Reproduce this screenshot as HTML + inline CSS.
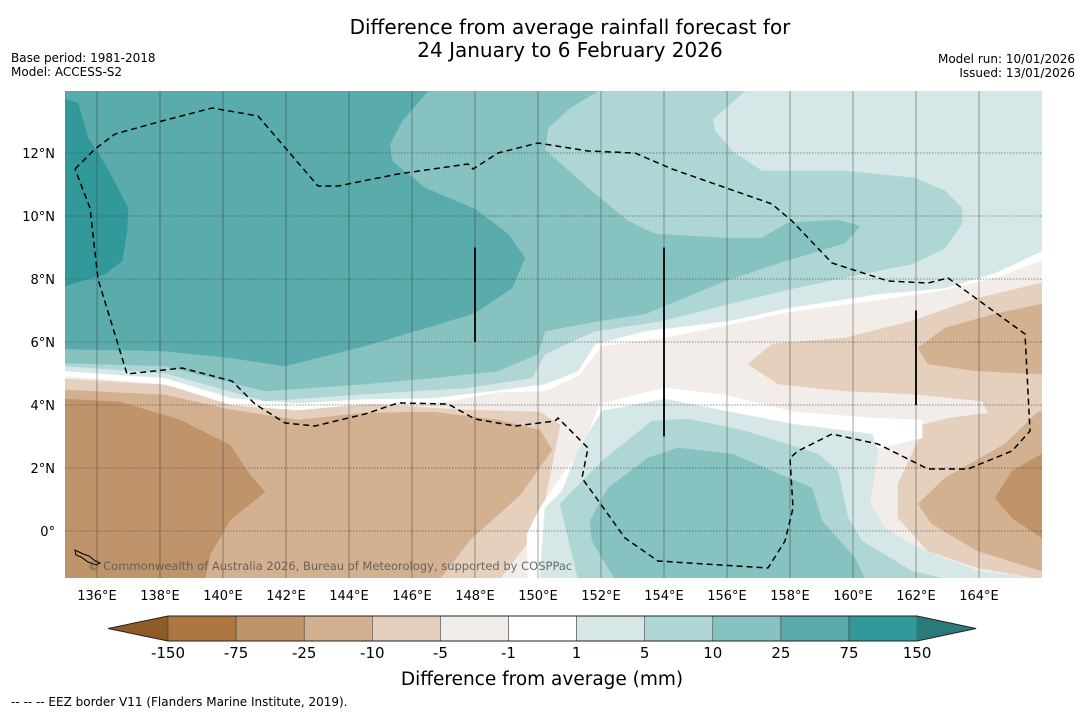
<!DOCTYPE html>
<html><head><meta charset="utf-8"><style>
body{margin:0;background:#fff;}
svg{display:block;font-family:"DejaVu Sans","Liberation Sans",sans-serif;}
</style></head><body>
<svg id="chart" width="1085" height="713" viewBox="0 0 1085 713" xmlns="http://www.w3.org/2000/svg">
<text x="570" y="34" font-size="20" text-anchor="middle">Difference from average rainfall forecast for</text>
<text x="570" y="57" font-size="20" text-anchor="middle">24 January to 6 February 2026</text>
<text x="11" y="62" font-size="12">Base period: 1981-2018</text>
<text x="11" y="76" font-size="12">Model: ACCESS-S2</text>
<text x="1075" y="63" font-size="12" text-anchor="end">Model run: 10/01/2026</text>
<text x="1075" y="77" font-size="12" text-anchor="end">Issued: 13/01/2026</text>
<defs><clipPath id="mapclip"><rect x="65" y="91" width="977" height="487"/></clipPath></defs>
<g id="map" clip-path="url(#mapclip)"></g>
<g id="axes"></g>
<g id="cbar"></g>
<text x="542" y="685" font-size="18.5" text-anchor="middle">Difference from average (mm)</text>
<text x="11" y="706" font-size="12">--  --  -- EEZ border V11 (Flanders Marine Institute, 2019).</text>
</svg>
<script>
const levels = ["-150","-75","-25","-10","-5","-1","1","5","10","25","75","150"];
const bandColors = ["#ad773f","#c0946a","#d3b08f","#e5d0be","#f2ede8","#ffffff","#d5e8e7","#add6d5","#86c2c0","#5aabab","#31999a"];
const lowColor = "#8e5a28", highColor = "#2a7a7a";
const lonTicks = [136,138,140,142,144,146,148,150,152,154,156,158,160,162,164];
const latTicks = [12,10,8,6,4,2,0];
const NS="http://www.w3.org/2000/svg";
const x = lon => 65.5 + (lon-135)*31.5;
const y = lat => 531 - lat*31.5;
function mk(tag, attrs, parent){const e=document.createElementNS(NS,tag);for(const k in attrs)e.setAttribute(k,attrs[k]);parent.appendChild(e);return e;}
const map=document.getElementById('map');
const regions=[
 ["base-fill","#f2ede8","65,91 1042,91 1042,579 65,579"],
 ["sw-minus5","#e5d0be","65,379 165,385 265,408 365,404 465,410 540,412 560,425 555,450 545,500 530,540 500,579 65,579"],
 ["sw-minus10","#d3b08f","65,390 165,395 232,410 298,420 365,413 432,412 498,420 540,430 552,450 520,495 470,540 440,579 65,579"],
 ["sw-minus25","#c0946a","65,399 120,402 180,420 230,445 250,475 265,492 230,520 210,555 205,579 65,579"],
 ["e-lower-minus5","#e5d0be","1042,405 988,413 950,418 922,425 918,441 898,484 898,518 928,551 978,568 1042,579"],
 ["e-lower-minus10","#d3b08f","1042,408 1005,444 945,478 918,504 932,524 978,551 1042,571"],
 ["e-lower-minus25","#c0946a","1042,454 1012,471 995,498 1012,518 1042,538"],
 ["centre-tongue-minus5","#e5d0be","748,364 772,344 845,338 912,321 978,298 1042,283 1042,411 988,413 982,401 912,394 845,391 778,384"],
 ["e-upper-minus10","#d3b08f","918,348 945,328 995,314 1042,304 1042,374 978,371 928,364"],
 ["se-white","#ffffff","528,579 527,534 540,508 565,471 580,454 600,404 665,388 725,395 795,412 872,418 922,420 922,438 878,448 868,504 878,531 912,551 978,579"],
 ["se-1to5","#d5e8e7","540,579 545,508 562,491 578,451 602,411 665,399 725,411 792,424 872,434 878,451 870,504 885,528 918,548 978,571 1042,579 1042,590 540,590"],
 ["se-5to10","#add6d5","578,579 560,504 602,461 652,421 688,419 745,431 818,454 838,471 848,518 862,541 912,571 945,579"],
 ["se-10to25","#86c2c0","590,521 608,488 648,458 678,448 732,454 812,488 822,521 855,558 865,579 615,579 592,541"],
 ["n-white","#ffffff","65,91 1042,91 1042,260 995,278 945,290 878,300 788,312 728,325 662,338 602,346 578,376 545,391 500,392 432,404 365,404 298,410 232,405 165,384 65,376"],
 ["n-1to5","#d5e8e7","65,91 1042,91 1042,251 995,273 945,288 878,294 788,308 728,321 645,331 595,344 578,371 545,384 500,390 432,398 365,399 298,403 232,398 165,378 65,371"],
 ["n-5to10","#add6d5","65,91 745,91 713,119 715,131 732,151 762,171 845,171 915,178 945,191 962,208 962,224 945,248 912,264 862,274 795,288 728,304 662,321 595,331 545,354 532,378 465,388 365,394 265,401 165,373 65,366"],
 ["n-10to25","#86c2c0","65,91 598,91 570,108 548,128 545,150 595,194 628,221 655,234 725,238 762,238 788,223 838,220 860,226 845,243 785,261 725,281 645,314 598,321 545,331 538,354 498,371 432,378 365,384 265,391 165,366 65,363"],
 ["n-25to75","#5aabab","65,91 428,91 402,121 390,144 392,161 425,188 475,209 508,234 525,258 512,288 475,313 432,326 365,346 285,366 232,358 165,351 65,349"],
 ["n-75to150","#31999a","65,91 65,99 78,103 88,138 105,164 128,208 127,231 122,261 105,274 65,286"]
];
regions.forEach(r=>{const p=mk('polygon',{points:r[2],fill:r[1],stroke:r[1],'stroke-width':0.5},map);

});
lonTicks.forEach(l=>{const g=mk('line',{x1:x(l),x2:x(l),y1:91,y2:578,stroke:'#333','stroke-opacity':0.45,'stroke-width':1},map);

});
latTicks.forEach(l=>{const g=mk('line',{x1:65,x2:1042,y1:y(l),y2:y(l),stroke:'#444','stroke-opacity':0.6,'stroke-width':1,'stroke-dasharray':'1.5,1.5'},map);

});
const eez="75,169 95,149 115,134 162,121 212,108 258,116 318,186 338,186 398,174 468,164 473,169 498,153 538,143 588,151 635,153 672,169 772,204 792,221 832,263 888,281 928,283 948,278 1025,334 1030,431 1012,451 968,469 928,469 878,444 832,434 798,451 790,458 793,508 785,541 768,568 658,561 625,538 582,478 588,448 558,418 555,421 515,426 475,419 448,404 398,403 365,414 315,426 285,423 255,404 232,381 182,368 127,374 98,279 90,208 75,169";
const e=mk('polyline',{points:eez,fill:'none',stroke:'#000','stroke-width':1.5,'stroke-dasharray':'6,4'},map);


[[148,9,6],[154,9,3],[162,7,4]].forEach(s=>{const l=mk('line',{x1:x(s[0]),x2:x(s[0]),y1:y(s[1]),y2:y(s[2]),stroke:'#111','stroke-width':2},map);

});
const isl=mk('path',{d:"M75,550 l8,4 l6,2 l5,4 l6,3 l-4,2 l-8,-3 l-7,-5 l-5,-2z",fill:'none',stroke:'#000','stroke-width':1},map);


const cp=mk('text',{x:88,y:570,'font-size':11.5,fill:'#555','fill-opacity':0.85},map);
cp.textContent="© Commonwealth of Australia 2026, Bureau of Meteorology, supported by COSPPac";


const ax=document.getElementById('axes');
lonTicks.forEach(l=>{const t=mk('text',{x:x(l),y:600,'font-size':13,'text-anchor':'middle'},ax);t.textContent=l+"°E";

});
latTicks.forEach(l=>{const t=mk('text',{x:55,y:y(l)+5,'font-size':13,'text-anchor':'end'},ax);t.textContent=l===0?"0°":l+"°N";

});
const cb=document.getElementById('cbar');
const cx0=168, cw=68.1, cy=616, ch=25;
const lt=mk('polygon',{points:`108,${cy+ch/2} ${cx0},${cy} ${cx0},${cy+ch}`,fill:lowColor},cb);


bandColors.forEach((c,i)=>{const r=mk('rect',{x:cx0+i*cw,y:cy,width:cw,height:ch,fill:c,stroke:'#333','stroke-width':0.5},cb);

});
const xe=cx0+bandColors.length*cw;
const ht=mk('polygon',{points:`${xe},${cy} ${xe+59},${cy+ch/2} ${xe},${cy+ch}`,fill:highColor},cb);


mk('polygon',{points:`108,${cy+ch/2} ${cx0},${cy} ${xe},${cy} ${xe+59},${cy+ch/2} ${xe},${cy+ch} ${cx0},${cy+ch}`,fill:'none',stroke:'#222','stroke-width':1},cb);
levels.forEach((v,i)=>{const t=mk('text',{x:cx0+i*cw,y:658,'font-size':15,'text-anchor':'middle'},cb);t.textContent=v;

});
</script>
</body></html>
